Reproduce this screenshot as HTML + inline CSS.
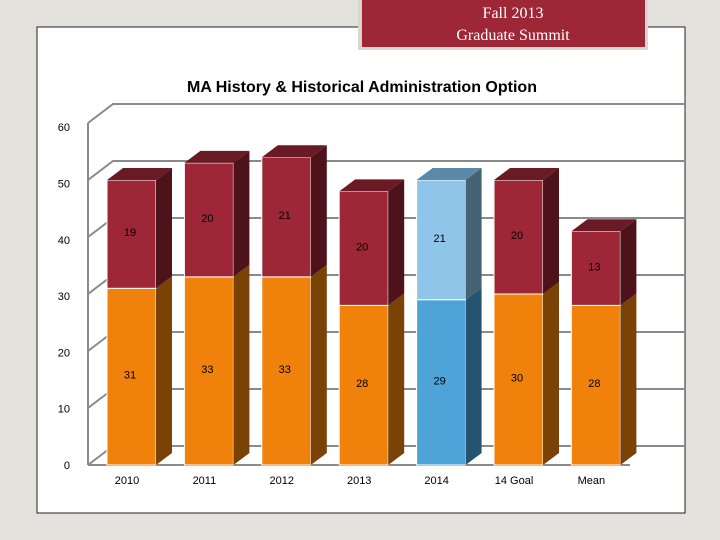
<!DOCTYPE html>
<html><head><meta charset="utf-8"><style>
body{margin:0;width:720px;height:540px;overflow:hidden;background:#e4e2dc;font-family:"Liberation Sans",sans-serif}
svg{position:absolute;left:0;top:0}
</style></head><body>
<svg width="720" height="540">
<rect x="0" y="0" width="720" height="540" fill="#e4e2dc"/>
<rect x="37" y="27" width="648" height="486" fill="#fff" stroke="#222" stroke-width="1"/>
<rect x="358" y="-2" width="290" height="52" fill="#d8d6ce"/>
<rect x="362" y="0" width="283" height="47" fill="#9d2736"/>
<text x="513" y="18" text-anchor="middle" font-family="Liberation Serif, serif" font-size="16" fill="#fff">Fall 2013</text>
<text x="513" y="40" text-anchor="middle" font-family="Liberation Serif, serif" font-size="16" fill="#fff">Graduate Summit</text>
<text x="362" y="92" text-anchor="middle" font-size="16" font-weight="bold" fill="#000">MA History &amp; Historical Administration Option</text>
<g id="grid"></g>
<g id="bars"></g>
<g id="labels"></g>
</svg>
<script>
const categories=["2010","2011","2012","2013","2014","14 Goal","Mean"];
const lower=[31,33,33,28,29,30,28];
const upper=[19,20,21,20,21,20,13];
const ticks=[0,10,20,30,40,50,60];
const NS="http://www.w3.org/2000/svg";
const y0=465,unit=5.7,labelUnit=5.63,ax=88,wdx=25,wdy=-19,bdx=16,bdy=-12,bw=49;
function Y(v){return y0-v*unit;}
function X(i){return 107+i*77.4;}
function mk(tag,attrs,parent){const e=document.createElementNS(NS,tag);for(const k in attrs)e.setAttribute(k,attrs[k]);document.getElementById(parent).appendChild(e);return e;}
ticks.forEach(t=>{
  const y=Y(t);
  const l=mk('polyline',{points:`${ax},${y} ${ax+wdx},${y+wdy} 685,${y+wdy}`,fill:'none',stroke:'#8a8a8a','stroke-width':2},'grid');
  
  
  const tx=mk('text',{x:70,y:y0-t*labelUnit+4,'text-anchor':'end','font-size':11,fill:'#000'},'labels');
  tx.textContent=t;
  
  
});
const axl=mk('line',{x1:ax,y1:Y(0),x2:ax,y2:Y(60),stroke:'#8a8a8a','stroke-width':2},'grid');


const fl=mk('line',{x1:ax,y1:Y(0),x2:630,y2:Y(0),stroke:'#8a8a8a','stroke-width':2},'grid');


function box(x,yt,yb,front,side,top,name){
  const g=mk('g',{},'bars');
  
  
  const f=document.createElementNS(NS,'rect');
  f.setAttribute('x',x);f.setAttribute('y',yt);f.setAttribute('width',bw);f.setAttribute('height',yb-yt);f.setAttribute('fill',front);f.setAttribute('stroke','#fff');f.setAttribute('stroke-width',1);
  g.appendChild(f);
  const s=document.createElementNS(NS,'polygon');
  s.setAttribute('points',`${x+bw},${yt} ${x+bw+bdx},${yt+bdy} ${x+bw+bdx},${yb+bdy} ${x+bw},${yb}`);s.setAttribute('fill',side);
  g.appendChild(s);
  if(top){const t=document.createElementNS(NS,'polygon');
  t.setAttribute('points',`${x},${yt} ${x+bdx},${yt+bdy} ${x+bw+bdx},${yt+bdy} ${x+bw},${yt}`);t.setAttribute('fill',top);g.appendChild(t);}
}
categories.forEach((c,i)=>{
  const x=X(i);const blue=(c==="2014");
  const yl=Y(lower[i]),yu=Y(lower[i]+upper[i]);
  box(x,yl,Y(0),blue?'#4ea4d8':'#f0820c',blue?'#245470':'#7a4204',null,'bar-lower-'+c);
  box(x,yu,yl,blue?'#8ec5e8':'#9d2736',blue?'#456272':'#4e121b',blue?'#5a8aa8':'#6a1a24','bar-upper-'+c);
  const a=mk('text',{x:x+23,y:(yl+Y(0))/2+2,'text-anchor':'middle','font-size':11,fill:'#000'},'labels');
  a.textContent=lower[i];
  
  
  const b=mk('text',{x:x+23,y:(yu+yl)/2+2,'text-anchor':'middle','font-size':11,fill:'#000'},'labels');
  b.textContent=upper[i];
  
  
  const cl=mk('text',{x:x+20,y:484,'text-anchor':'middle','font-size':11,fill:'#000'},'labels');
  cl.textContent=c;
  
  
});
</script>
</body></html>
